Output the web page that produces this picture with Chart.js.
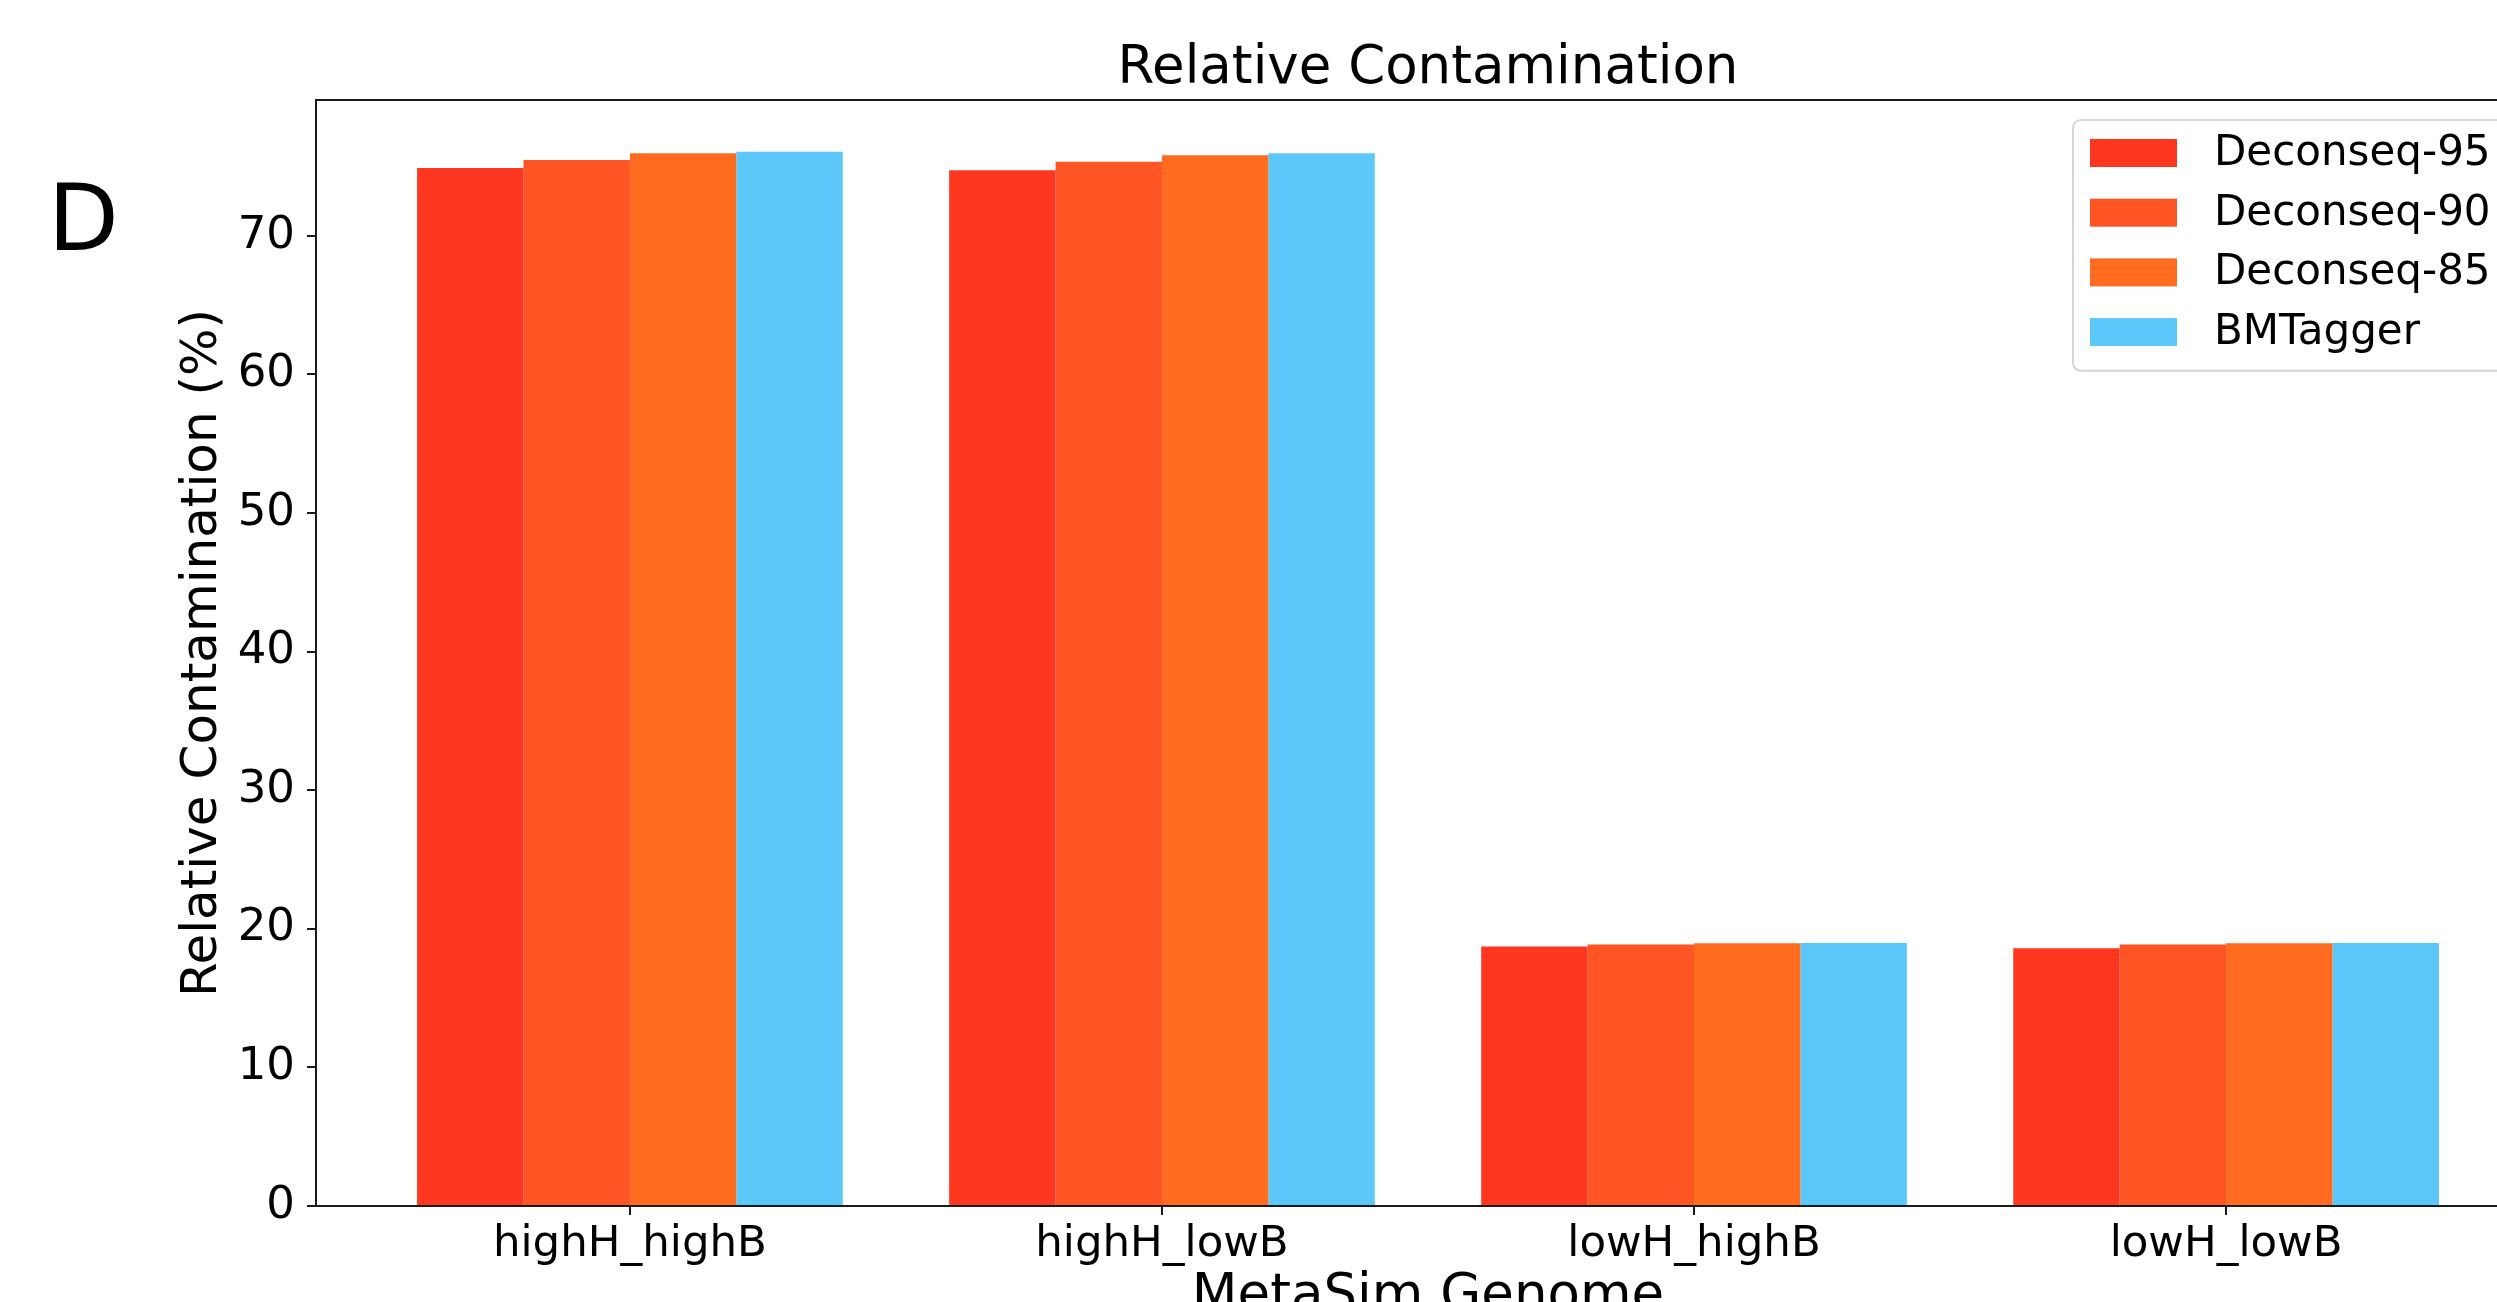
<!DOCTYPE html>
<html>
<head>
<meta charset="utf-8">
<script src="https://cdn.jsdelivr.net/npm/chart.js@4"></script>
<style>
  html, body { margin: 0; padding: 0; background: #fff; overflow: hidden; width: 2497px; height: 1302px; }
  #wrap { position: absolute; left: 0; top: 0; }
</style>
</head>
<body>
<div id="wrap"><canvas id="c" width="2650" height="1360"></canvas></div>
<script>
// ---- data ----
const categories = ["highH_highB", "highH_lowB", "lowH_highB", "lowH_lowB"];
const seriesNames = ["Deconseq-95", "Deconseq-90", "Deconseq-85", "BMTagger"];
const deconseq95 = [74.89, 74.74, 18.72, 18.60];
const deconseq90 = [75.47, 75.34, 18.87, 18.87];
const deconseq85 = [75.95, 75.82, 18.96, 18.96];
const bmtagger   = [76.07, 75.95, 18.97, 18.97];
const yTicks = [0, 10, 20, 30, 40, 50, 60, 70];
const seriesColors = ["#ff3720", "#ff5524", "#ff6b1f", "#5bc8f9"];

const seriesValues = [deconseq95, deconseq90, deconseq85, bmtagger];
const FONT = "'DejaVu Sans', 'Liberation Sans', sans-serif";

const spinePlugin = {
  id: 'spines',
  afterDraw(chart) {
    const {ctx, chartArea: a} = chart;
    ctx.save();
    ctx.strokeStyle = '#1a1a1a';
    ctx.lineWidth = 2;
    ctx.beginPath();
    ctx.moveTo(a.left - 1, a.top);
    ctx.lineTo(a.right, a.top);
    ctx.lineTo(a.right, a.bottom);
    ctx.stroke();
    // panel letter
    ctx.fillStyle = '#000';
    ctx.font = "92px " + FONT;
    ctx.textBaseline = 'alphabetic';
    ctx.textAlign = 'left';
    ctx.fillText('D', 48, 250);
    ctx.restore();
  }
};

const legendPlugin = {
  id: 'mplLegend',
  afterDraw(chart) {
    const {ctx, chartArea: a} = chart;
    const ds = chart.data.datasets;
    const boxL = a.right - 467, boxT = a.top + 20, boxW = 453, rowH = 59.7;
    const boxH = ds.length * rowH + 12;
    ctx.save();
    ctx.fillStyle = 'rgba(255,255,255,0.8)';
    ctx.strokeStyle = '#d6d6d6';
    ctx.lineWidth = 2;
    ctx.beginPath();
    ctx.roundRect(boxL, boxT, boxW, boxH, 8);
    ctx.fill();
    ctx.stroke();
    ctx.font = "42px " + FONT;
    ctx.textBaseline = 'middle';
    ctx.textAlign = 'left';
    ds.forEach((d, i) => {
      const cy = boxT + 33 + i * rowH;
      ctx.fillStyle = d.backgroundColor;
      ctx.fillRect(boxL + 17, cy - 14, 87, 28);
      ctx.fillStyle = '#000';
      ctx.fillText(d.label, boxL + 141, cy + 1);
    });
    ctx.restore();
  }
};

new Chart(document.getElementById('c'), {
  type: 'bar',
  data: {
    datasets: seriesNames.map((name, k) => ({
      label: name,
      data: seriesValues[k].map((v, i) => ({ x: i, y: v })),
      backgroundColor: seriesColors[k],
      borderWidth: 0,
      categoryPercentage: 0.8,
      barPercentage: 1.0
    }))
  },
  options: {
    responsive: false,
    animation: false,
    devicePixelRatio: 1,
    layout: { padding: { left: 0, right: 110, top: 0, bottom: 0 } },
    plugins: {
      legend: { display: false },
      tooltip: { enabled: false },
      title: {
        display: true,
        text: 'Relative Contamination',
        fullSize: false,
        color: '#000',
        font: { family: FONT, size: 53, weight: 'normal', lineHeight: 1.1 },
        padding: { top: 40, bottom: 1.7 }
      }
    },
    scales: {
      x: {
        type: 'linear',
        min: -0.59,
        max: 3.59,
        offset: false,
        grid: { display: true, drawOnChartArea: false, drawTicks: true, tickLength: 9, tickColor: '#1a1a1a', lineWidth: 2, offset: false },
        border: { display: true, color: '#1a1a1a', width: 2 },
        afterBuildTicks: (axis) => { axis.ticks = categories.map((c, i) => ({ value: i })); },
        afterFit: (axis) => { axis.height = 154; },
        ticks: {
          autoSkip: false, maxRotation: 0, minRotation: 0, padding: 4,
          color: '#000',
          font: { family: FONT, size: 43.5 },
          callback: (v) => categories[v]
        },
        title: {
          display: true, text: 'MetaSim Genome', color: '#000',
          font: { family: FONT, size: 53 },
          padding: { top: 0, bottom: 31 }
        }
      },
      y: {
        type: 'linear',
        min: 0,
        max: 79.8,
        grid: { display: true, drawOnChartArea: false, drawTicks: true, tickLength: 9, tickColor: '#1a1a1a', lineWidth: 2 },
        border: { display: true, color: '#1a1a1a', width: 2 },
        afterBuildTicks: (axis) => { axis.ticks = yTicks.map(v => ({ value: v })); },
        afterFit: (axis) => { axis.width = 316; },
        ticks: {
          padding: 12, color: '#000',
          font: { family: FONT, size: 45 }
        },
        title: {
          display: true, text: 'Relative Contamination (%)', color: '#000',
          font: { family: FONT, size: 50 },
          padding: { top: 173, bottom: 0 }
        }
      }
    }
  },
  plugins: [spinePlugin, legendPlugin]
});
</script>
</body>
</html>
